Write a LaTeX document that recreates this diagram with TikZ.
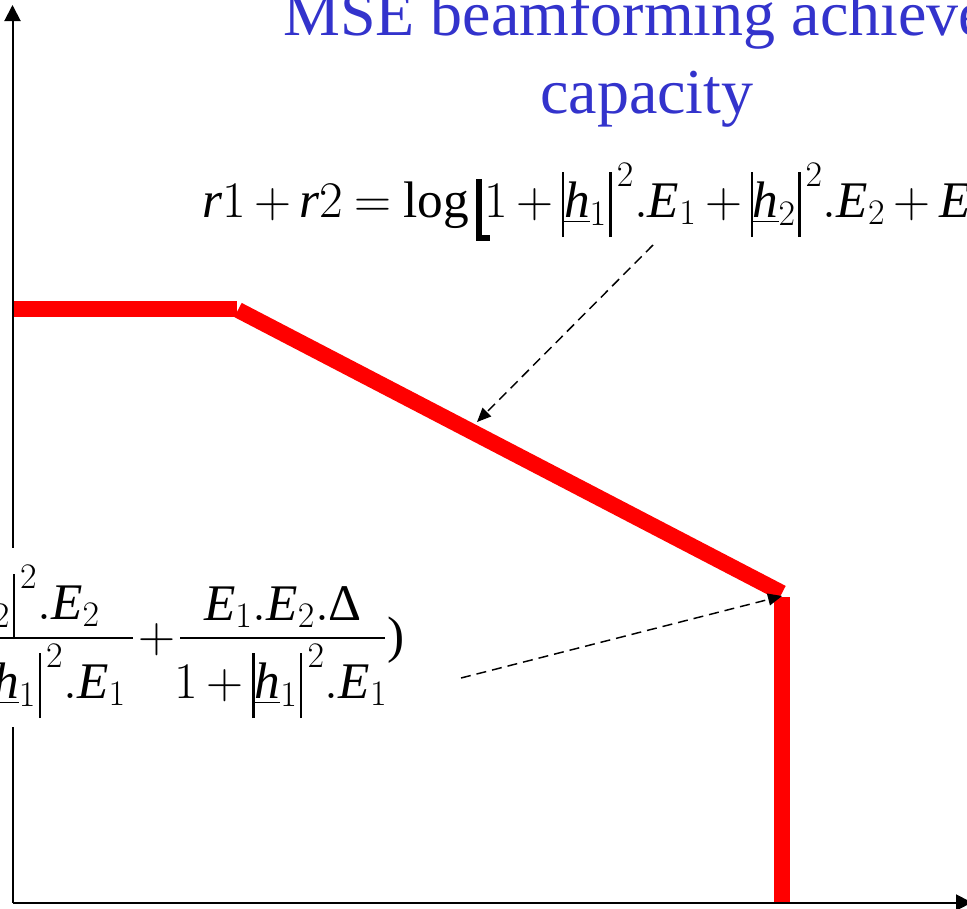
\RequirePackage{fix-cm}
\documentclass[tikz,border=0pt]{standalone}
\usepackage{amsmath}
\usepackage{fontspec}
\setmainfont{Liberation Serif}
\usetikzlibrary{arrows.meta}
\definecolor{titleblue}{RGB}{51,51,204}
\definecolor{curvered}{RGB}{255,0,0}
\newcommand\mi[1]{\text{\itshape #1}}
\newcommand\vb{\mathord{\text{\rule[-0.39em]{0.045em}{1.26em}}}}
\newcommand\hu[1]{\underline{\mi{h}}_{#1}\hspace{0.05em}}
\newcommand\sqd{^{\hspace{0.1em}2}}
\newcommand\lbr{\hspace{0.15em}\mathord{\text{\rule[-0.46em]{0.11em}{1.2em}\hspace{-0.11em}\rule[-0.46em]{0.27em}{0.1em}\hspace{-0.12em}}}}
\newcommand\eqsp{\medmuskip=3mu \thickmuskip=4mu }
\tikzset{
  axisline/.style={line width=1.5pt, -{Triangle[length=12pt,width=12pt]}},
  curve/.style={draw=curvered, line width=12pt},
  pointer/.style={line width=1.1pt, dash pattern=on 7.5pt off 4.5pt, -{Triangle[length=10.5pt,width=9pt]}},
  fracbar/.style={line width=1.5pt},
  title/.style={font=\fontsize{48}{58}\selectfont, text=titleblue, inner sep=0pt},
  eq/.style={font=\fontsize{38.5}{46}\selectfont, inner sep=0pt},
}
\begin{document}
\begin{tikzpicture}[x=0.75pt, y=-0.75pt]
\path[use as bounding box] (0,0) rectangle (967,908);
\clip (0,0) rectangle (967,908);
% red capacity region boundary
\coordinate (h0) at (14,309);
\coordinate (h1) at (237,309);
\coordinate (d0) at (238,310);
\coordinate (d1) at (782,593);
\coordinate (v0) at (782,597);
\coordinate (v1) at (782,902);
\draw[curve] (h0) -- (h1);
\draw[curve] (d0) -- (d1);
\draw[curve] (v0) -- (v1);
% axes
\coordinate (o) at (12.5,902.5);
\coordinate (ytip) at (12.5,5);
\coordinate (xtip) at (972,902.5);
\draw[axisline] (o) -- (ytip);
\draw[axisline] (o) -- (xtip);
% title
\node[title, anchor=base west] (t1) at (283,35) {MSE beamforming achieves};
\node[title, anchor=base west] (t2) at (540,113) {capacity};
% sum-rate formula
\node[eq, anchor=base west] (f1) at (202,217)
  {$\eqsp\mi{r}1+\mi{r}2=\text{log}\lbr 1+\vb\hu{1}\vb\sqd.\mi{E}_1+\vb\hu{2}\vb\sqd.\mi{E}_2+\mi{E}$};
% corner-point formula (white backing hides the axis)
\fill[white] (-100,548) rectangle (455,727);
\node[eq, anchor=base east] (n1) at (100,619) {$\eqsp\vb\hu{2}\vb\sqd.\mi{E}_2$};
\node[eq, anchor=base east] (dn1) at (126,698) {$\eqsp 1+\vb\hu{1}\vb\sqd.\mi{E}_1$};
\coordinate (b1s) at (-80,638);
\coordinate (b1e) at (133,638);
\draw[fracbar] (b1s) -- (b1e);
\node[eq, anchor=base] (plus) at (157,652) {$+$};
\node[eq, anchor=base] (n2) at (283,620) {$\eqsp\mi{E}_1.\mi{E}_2.\text{Δ}$};
\node[eq, anchor=base] (dn2) at (281,698) {$\eqsp 1+\vb\hu{1}\vb\sqd.\mi{E}_1$};
\coordinate (b2s) at (180,638);
\coordinate (b2e) at (385,638);
\draw[fracbar] (b2s) -- (b2e);
\node[eq, anchor=base west] (rp) at (387,652) {)};
% pointers
\coordinate (p1s) at (653,245);
\coordinate (p1e) at (477,422);
\coordinate (p2s) at (461,678);
\coordinate (p2e) at (782,596);
\draw[pointer] (p1s) -- (p1e);
\draw[pointer] (p2s) -- (p2e);
\end{tikzpicture}
\end{document}
